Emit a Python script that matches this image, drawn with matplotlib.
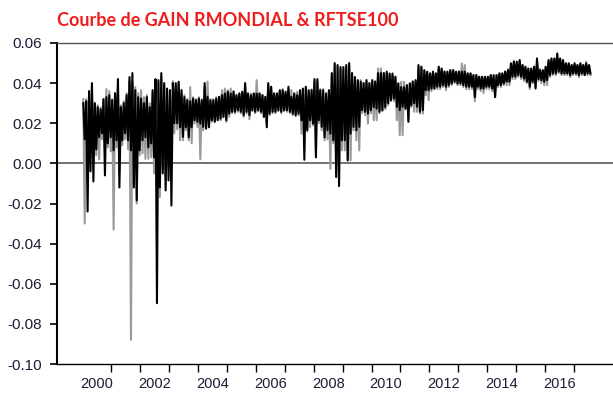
import numpy as np
import matplotlib
matplotlib.use("Agg")
import matplotlib.pyplot as plt
from matplotlib import font_manager

plt.rcParams["axes.unicode_minus"] = False

# Sub-period grid: 10 sub-periods per year, starting January 2000
start_year = 2000.0
step = 0.1

# RMONDIAL (black): highest / lowest value inside each sub-period
rmondial_high = [
    0.030, 0.031, 0.036, 0.040, 0.030, 0.028, 0.027, 0.032, 0.033, 0.034,          # 2000
    0.0315, 0.035, 0.042, 0.028, 0.030, 0.034, 0.043, 0.045, 0.0365, 0.033,        # 2001
    0.0323, 0.030, 0.033, 0.028, 0.0365, 0.042, 0.0415, 0.045, 0.040, 0.0373,      # 2002
    0.0365, 0.040, 0.040, 0.0407, 0.0365, 0.033, 0.0315, 0.031, 0.0323, 0.0315,    # 2003
    0.0323, 0.0315, 0.040, 0.0332, 0.0315, 0.0315, 0.0323, 0.0332, 0.034, 0.0348,  # 2004
    0.0357, 0.0348, 0.0357, 0.034, 0.0348, 0.0357, 0.040, 0.0348, 0.034, 0.0348,   # 2005
    0.0348, 0.0348, 0.034, 0.0332, 0.040, 0.0382, 0.0348, 0.0348, 0.0365, 0.0365,  # 2006
    0.0357, 0.0382, 0.0332, 0.0348, 0.034, 0.0365, 0.0373, 0.0382, 0.0365, 0.0365, # 2007
    0.042, 0.042, 0.0365, 0.0365, 0.0348, 0.0365, 0.045, 0.050, 0.049, 0.048,      # 2008
    0.048, 0.049, 0.050, 0.045, 0.043, 0.0415, 0.0407, 0.040, 0.0415, 0.040,       # 2009
    0.0415, 0.0407, 0.045, 0.045, 0.045, 0.0457, 0.0448, 0.0448, 0.0432, 0.0398,   # 2010
    0.038, 0.038, 0.039, 0.0398, 0.0407, 0.0415, 0.049, 0.0482, 0.0465, 0.0457,    # 2011
    0.0448, 0.0457, 0.0448, 0.0482, 0.0473, 0.0457, 0.0457, 0.0465, 0.0465, 0.0457, # 2012
    0.0457, 0.0457, 0.0457, 0.0448, 0.0448, 0.044, 0.044, 0.0432, 0.0432, 0.0432,  # 2013
    0.0432, 0.044, 0.044, 0.044, 0.0448, 0.0448, 0.0457, 0.0465, 0.0498, 0.0507,   # 2014
    0.0507, 0.0515, 0.049, 0.0482, 0.0473, 0.0473, 0.0482, 0.0523, 0.0465, 0.0465, # 2015
    0.0482, 0.0515, 0.0523, 0.0523, 0.0548, 0.0523, 0.0515, 0.0498, 0.0498, 0.049, # 2016
    0.0498, 0.049, 0.0498, 0.049, 0.0498, 0.049,                                   # 2017
]
rmondial_low = [
    0.012, -0.024, -0.004, -0.009, 0.007, 0.013, 0.015, -0.006, 0.010, 0.013,
    0.0065, 0.0115, -0.012, 0.0115, 0.015, 0.0115, 0.0065, -0.012, -0.0185, 0.0065,
    0.0115, 0.013, 0.008, 0.010, 0.003, -0.0697, -0.012, -0.005, -0.0135, -0.0085,
    -0.021, 0.020, 0.020, 0.018, 0.0132, 0.018, 0.013, 0.018, 0.0215, 0.0207,
    0.0198, 0.0182, 0.0173, 0.018, 0.0215, 0.0207, 0.0215, 0.0223, 0.0232, 0.0215,
    0.0248, 0.0257, 0.0257, 0.0265, 0.0257, 0.024, 0.0257, 0.024, 0.0265, 0.0257,
    0.0265, 0.0257, 0.0232, 0.018, 0.0248, 0.0257, 0.0257, 0.0265, 0.0257, 0.0265,
    0.0265, 0.0257, 0.0248, 0.024, 0.0248, 0.0215, 0.0018, 0.0165, 0.0215, 0.0198,
    0.003, 0.0215, 0.0182, 0.013, 0.0165, 0.0148, 0.0115, -0.0068, -0.0113, 0.0115,
    0.0115, 0.0015, 0.0148, 0.0182, 0.0165, 0.0182, 0.0265, 0.0257, 0.0248, 0.0265,
    0.028, 0.0273, 0.0257, 0.0265, 0.028, 0.030, 0.0315, 0.0323, 0.0282, 0.0265,
    0.0282, 0.0273, 0.0207, 0.029, 0.030, 0.0282, 0.0257, 0.0265, 0.0365, 0.0365,
    0.0373, 0.0373, 0.0382, 0.0382, 0.039, 0.0382, 0.039, 0.0398, 0.0407, 0.0398,
    0.0398, 0.039, 0.0382, 0.0382, 0.0382, 0.033, 0.0382, 0.0373, 0.0373, 0.0382,
    0.0382, 0.0373, 0.033, 0.039, 0.039, 0.0398, 0.0407, 0.0407, 0.0432, 0.0432,
    0.044, 0.0432, 0.0423, 0.0407, 0.0382, 0.0407, 0.0373, 0.042, 0.0415, 0.0407,
    0.0415, 0.044, 0.0448, 0.0448, 0.0457, 0.0448, 0.0448, 0.0448, 0.044, 0.0448,
    0.0448, 0.044, 0.0448, 0.044, 0.0448, 0.0448,
]

# RFTSE100 (grey): highest / lowest value inside each sub-period
rftse_high = [
    0.032, 0.032, 0.035, 0.038, 0.030, 0.029, 0.028, 0.032, 0.037, 0.036,
    0.032, 0.034, 0.040, 0.029, 0.031, 0.035, 0.041, 0.040, 0.038, 0.035,
    0.0365, 0.033, 0.034, 0.030, 0.035, 0.040, 0.040, 0.043, 0.039, 0.036,
    0.035, 0.041, 0.039, 0.040, 0.035, 0.034, 0.032, 0.038, 0.033, 0.032,
    0.033, 0.032, 0.038, 0.0407, 0.032, 0.032, 0.033, 0.033, 0.0365, 0.0373,
    0.0365, 0.0373, 0.036, 0.034, 0.035, 0.035, 0.039, 0.035, 0.0348, 0.035,
    0.0415, 0.035, 0.034, 0.033, 0.039, 0.038, 0.035, 0.035, 0.036, 0.037,
    0.035, 0.037, 0.0365, 0.035, 0.0357, 0.036, 0.037, 0.038, 0.036, 0.037,
    0.041, 0.041, 0.037, 0.037, 0.035, 0.036, 0.044, 0.049, 0.048, 0.047,
    0.047, 0.048, 0.049, 0.045, 0.043, 0.041, 0.0415, 0.040, 0.041, 0.040,
    0.041, 0.041, 0.0473, 0.0473, 0.045, 0.045, 0.044, 0.044, 0.043, 0.040,
    0.0407, 0.0407, 0.039, 0.040, 0.041, 0.041, 0.048, 0.048, 0.046, 0.045,
    0.045, 0.045, 0.045, 0.047, 0.047, 0.046, 0.045, 0.046, 0.046, 0.045,
    0.046, 0.0498, 0.049, 0.045, 0.045, 0.044, 0.044, 0.043, 0.043, 0.043,
    0.043, 0.044, 0.043, 0.044, 0.045, 0.045, 0.046, 0.047, 0.050, 0.051,
    0.050, 0.051, 0.049, 0.048, 0.047, 0.047, 0.048, 0.051, 0.047, 0.046,
    0.048, 0.051, 0.052, 0.052, 0.054, 0.052, 0.051, 0.050, 0.050, 0.049,
    0.050, 0.049, 0.050, 0.049, 0.0507, 0.049,
]
rftse_low = [
    -0.030, -0.010, 0.008, 0.005, 0.004, 0.002, 0.012, 0.006, 0.008, 0.006,
    -0.033, 0.008, -0.005, 0.009, 0.012, 0.007, -0.088, -0.010, -0.020, 0.004,
    0.005, 0.0023, 0.0023, 0.003, -0.005, -0.018, -0.0168, -0.003, -0.008, -0.002,
    -0.002, 0.015, 0.017, 0.0115, 0.0115, 0.0165, 0.0115, 0.010, 0.0198, 0.0182,
    0.002, 0.0165, 0.018, 0.019, 0.0207, 0.021, 0.022, 0.0215, 0.023, 0.0207,
    0.0232, 0.025, 0.025, 0.0257, 0.025, 0.0232, 0.0248, 0.022, 0.026, 0.025,
    0.026, 0.025, 0.023, 0.020, 0.024, 0.025, 0.025, 0.026, 0.025, 0.026,
    0.0257, 0.025, 0.024, 0.0235, 0.024, 0.0148, 0.0148, 0.016, 0.018, 0.019,
    0.006, 0.020, 0.0165, 0.0115, 0.012, -0.0027, 0.010, -0.004, -0.008, 0.0065,
    0.0065, 0.0015, 0.0015, 0.0165, 0.0115, 0.0065, 0.025, 0.024, 0.0198, 0.025,
    0.0215, 0.0215, 0.025, 0.026, 0.027, 0.029, 0.031, 0.031, 0.0215, 0.014,
    0.014, 0.027, 0.022, 0.028, 0.0257, 0.0257, 0.0248, 0.0248, 0.034, 0.0315,
    0.036, 0.037, 0.037, 0.037, 0.038, 0.0365, 0.038, 0.039, 0.040, 0.039,
    0.039, 0.038, 0.037, 0.037, 0.037, 0.031, 0.037, 0.036, 0.035, 0.037,
    0.037, 0.036, 0.034, 0.038, 0.038, 0.039, 0.039, 0.039, 0.042, 0.042,
    0.043, 0.042, 0.041, 0.040, 0.037, 0.040, 0.038, 0.041, 0.040, 0.039,
    0.039, 0.043, 0.044, 0.044, 0.045, 0.044, 0.044, 0.044, 0.043, 0.044,
    0.044, 0.043, 0.044, 0.044, 0.044, 0.044,
]

y_ticks = [-0.10, -0.08, -0.06, -0.04, -0.02, 0.00, 0.02, 0.04, 0.06]
y_tick_labels = ["-0.10", "-0.08", "-0.06", "-0.04", "-0.02", "0.00", "0.02", "0.04", "0.06"]
year_labels = ["2000", "2002", "2004", "2006", "2008", "2010", "2012", "2014", "2016"]
title_text = "Courbe de GAIN RMONDIAL & RFTSE100"


def zigzag(high, low):
    """Trace each sub-period from its high to its low, like a dense daily line."""
    high = np.asarray(high, dtype=float)
    low = np.asarray(low, dtype=float)
    t0 = start_year + step * np.arange(len(high))
    x = np.column_stack([t0 + 0.25 * step, t0 + 0.75 * step]).ravel()
    y = np.column_stack([high, low]).ravel()
    return x, y


W, H = 613, 394
fig = plt.figure(figsize=(W / 100, H / 100), dpi=100)
fig.patch.set_facecolor("white")

# axes box in pixel terms: left spine at x=57, top at y=43, bottom at y=364
left_px, right_px, top_px, bottom_px = 57, 640, 43, 364
ax = fig.add_axes([left_px / W, 1 - bottom_px / H,
                   (right_px - left_px) / W, (bottom_px - top_px) / H])

px_per_year = 28.9
x0 = 2000.5 + (left_px - 97) / px_per_year
x1 = x0 + (right_px - left_px) / px_per_year
ax.set_xlim(x0, x1)
ax.set_ylim(-0.10, 0.06)

ax.axhline(0.0, color="#4a4a4a", lw=1.1, zorder=1)

gx, gy = zigzag(rftse_high, rftse_low)
ax.plot(gx, gy, color="#9a9a9a", lw=1.5, zorder=2, solid_joinstyle="round")
bx, by = zigzag(rmondial_high, rmondial_low)
ax.plot(bx, by, color="#000000", lw=1.5, zorder=3, solid_joinstyle="round")

# spines
ax.spines["right"].set_visible(False)
ax.spines["top"].set_color("#555555")
ax.spines["top"].set_linewidth(1.0)
ax.spines["left"].set_color("#000000")
ax.spines["left"].set_linewidth(1.5)
ax.spines["bottom"].set_color("#000000")
ax.spines["bottom"].set_linewidth(1.0)

label_color = "#1c1c36"
tick_font = "Liberation Sans"

# y axis
ax.set_yticks(y_ticks)
ax.set_yticklabels(y_tick_labels)
ax.tick_params(axis="y", direction="out", length=5, width=1.2, color="#000000",
               pad=5.5, labelsize=11, labelcolor=label_color)
for lab in ax.get_yticklabels():
    lab.set_fontfamily(tick_font)

# x axis: ticks at year boundaries, labels centred on every other year
ax.set_xticks(np.arange(2001, 2018))
ax.set_xticklabels([])
ax.set_xticks([int(s) + 0.5 for s in year_labels], minor=True)
ax.set_xticklabels(year_labels, minor=True)
ax.tick_params(axis="x", which="major", direction="out", length=6, width=1.0,
               color="#000000")
ax.tick_params(axis="x", which="minor", length=0, pad=9, labelsize=10.5,
               labelcolor=label_color)
for lab in ax.get_xticklabels(minor=True):
    lab.set_fontfamily(tick_font)

# title, sized to span the same width as the plotted heading
available = {f.name for f in font_manager.fontManager.ttflist}
title_family = "Liberation Sans Narrow" if "Liberation Sans Narrow" in available else "Lato"
title = fig.text(57 / W, 1 - 20 / H, title_text, ha="left", va="center",
                 color="#ef1c1c", fontweight="bold", fontsize=15,
                 family=title_family)
fig.canvas.draw()
renderer = fig.canvas.get_renderer()
w = title.get_window_extent(renderer).width
title.set_fontsize(15 * 328 / w * 1.04)

fig.savefig("out.png", dpi=100, facecolor="white")
